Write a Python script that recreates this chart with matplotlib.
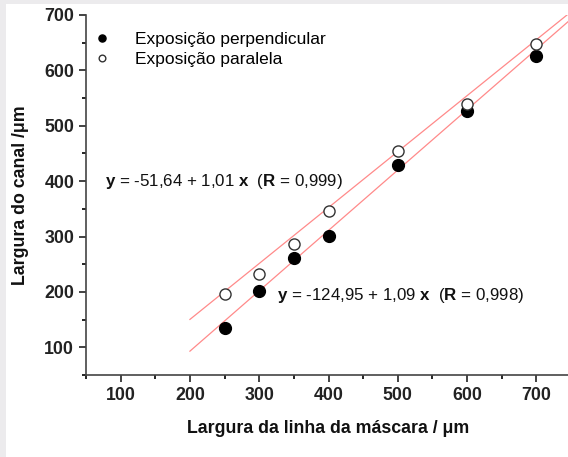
import numpy as np
import matplotlib
matplotlib.use('Agg')
import matplotlib.pyplot as plt
import matplotlib.patches as mpatches

plt.rcParams['font.family'] = ['Liberation Sans', 'DejaVu Sans']
plt.rcParams['mathtext.fontset'] = 'custom'
plt.rcParams['mathtext.rm'] = 'Liberation Sans'
plt.rcParams['mathtext.bf'] = 'Liberation Sans:bold'

# ── Data (µm) ────────────────────────────────────────────────────────────────
mask_width = [250, 300, 350, 400, 500, 600, 700]
perp = [134, 201, 262, 301, 429, 526, 626]
para = [197, 233, 287, 346, 454, 539, 647]

fit_para = (-51.64, 1.01)     # y = a + b x
fit_perp = (-124.95, 1.09)
fit_x = [200, 750]

# ── Figure ───────────────────────────────────────────────────────────────────
fig = plt.figure(figsize=(5.68, 4.57), dpi=100, facecolor='#ecebed')
fig.add_artist(mpatches.Rectangle((6 / 568, 0), 1, 1 - 4 / 457,
                                  transform=fig.transFigure, facecolor='white',
                                  edgecolor='none', zorder=0))
ax = fig.add_axes([86 / 568, 82 / 457, 485 / 568, 360 / 457])
ax.set_facecolor('none')

xf = np.array(fit_x, dtype=float)
for a, b in (fit_para, fit_perp):
    ax.plot(xf, a + b * xf, color='#ff8a8a', lw=0.9, zorder=2)

ax.plot(mask_width, perp, 'o', ms=8.5, mfc='black', mec='black',
        label='Exposição perpendicular', zorder=3)
ax.plot(mask_width, para, 'o', ms=8, mfc='white', mec='#333333', mew=1.0,
        label='Exposição paralela', zorder=3)

ax.set_xlim(50, 750)
ax.set_ylim(50, 700)
ax.set_xticks(range(100, 701, 100))
ax.set_xticks(range(50, 751, 50), minor=True)
ax.set_yticks(range(100, 701, 100))
ax.set_yticks(range(50, 701, 50), minor=True)
ax.tick_params(which='major', direction='out', length=5, width=1.2,
               labelsize=12.8, colors='#222222')
ax.tick_params(which='minor', direction='out', length=3, width=1.2)
for lab in ax.get_xticklabels() + ax.get_yticklabels():
    lab.set_fontweight('bold')
for s in ('top', 'right'):
    ax.spines[s].set_visible(False)
for s in ('left', 'bottom'):
    ax.spines[s].set_linewidth(1.2)
    ax.spines[s].set_color('#444444')

ax.set_xlabel('Largura da linha da máscara / μm', fontsize=12.8,
              fontweight='bold', labelpad=12, color='#111111')
ax.set_ylabel('Largura do canal /μm', fontsize=12.8, fontweight='bold',
              labelpad=11, color='#111111')

leg = ax.legend(loc='upper left', bbox_to_anchor=(-0.013, 0.986), frameon=False,
                fontsize=12.5, markerscale=0.6, handletextpad=1.3,
                labelspacing=0.25, handlelength=1.2, borderaxespad=0.3)

ax.text(77, 400, r'$\mathbf{y}$ = -51,64 + 1,01 $\mathbf{x}$  ($\mathbf{R}$ = 0,999)',
        fontsize=12.2, ha='left', va='center', color='#111111')
ax.text(326, 194, r'$\mathbf{y}$ = -124,95 + 1,09 $\mathbf{x}$  ($\mathbf{R}$ = 0,998)',
        fontsize=12.2, ha='left', va='center', color='#111111')

fig.savefig('out.png', dpi=100, facecolor=fig.get_facecolor())
